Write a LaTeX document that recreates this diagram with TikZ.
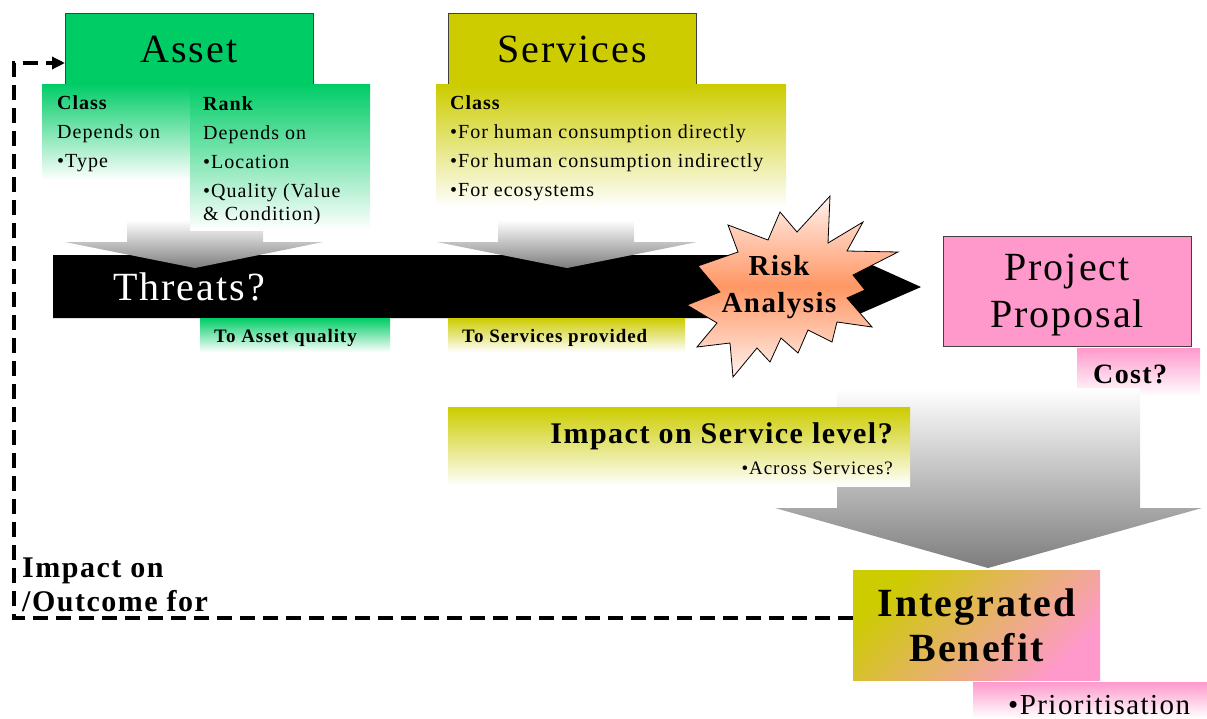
\documentclass[tikz,border=0pt]{standalone}
\usepackage{fontspec}
\setmainfont{Liberation Serif}[LetterSpace=5]
\usetikzlibrary{arrows.meta}

\definecolor{assetgreen}{RGB}{0,204,102}
\definecolor{servyellow}{RGB}{204,204,0}
\definecolor{proppink}{RGB}{255,153,204}
\definecolor{riskorange}{RGB}{255,150,100}
\definecolor{riskpale}{RGB}{255,242,238}
\definecolor{arrowgrey}{RGB}{125,125,125}

\newcommand{\fs}[2]{\fontsize{#1}{#2}\selectfont}

\begin{document}
\begin{tikzpicture}[x=1pt,y=-1pt,
    titlebox/.style={draw=black!75, line width=0.8pt, anchor=north west, inner sep=0pt, outer sep=0pt, minimum width=248pt, align=center, font=\fs{40}{47}},
    txt/.style={anchor=base west, inner sep=0pt, align=left, font=\fs{20}{23}},
    fadebox/.style={top color=#1, bottom color=white},
    downarrow/.style={top color=white, bottom color=arrowgrey},
    feedback/.style={line width=3.5pt, dash pattern=on 15pt off 8pt, -{Triangle[length=13pt,width=12pt]}}]

    \useasboundingbox (0,0) rectangle (1207,718);

    \fill (53,255) -- (850,255) -- (921,287) -- (850,318) -- (53,318) -- cycle;
    \node[txt, text=white, font=\fs{40}{47}] (threats) at (113,300) {Threats?};

    \shade[downarrow] (127,220) -- (263,220) -- (263,242) -- (323,242) -- (195,268) -- (65,242) -- (127,242) -- cycle;
    \shade[downarrow] (498,220) -- (634,220) -- (634,242) -- (697,242) -- (567,268) -- (437,242) -- (498,242) -- cycle;

    \node[titlebox, fill=assetgreen, minimum height=72pt] (asset) at (65,13) {Asset};
    \node[titlebox, fill=servyellow, minimum height=72pt] (services) at (448,13) {Services};

    \shade[fadebox=assetgreen] (42,84) rectangle (190,180);
    \shade[fadebox=assetgreen] (190,84) rectangle (370,230);
    \shade[fadebox=servyellow] (436,84) rectangle (786,207);

    \node[txt] (assetclass) at (57,167) {\textbf{Class}\\[6pt] Depends on\\[6pt] •Type};
    \node[txt] (assetrank) at (203,220) {\textbf{Rank}\\[6pt] Depends on\\[6pt] •Location\\[6pt] •Quality (Value\\ \& Condition)};
    \node[txt] (servclass) at (450,196) {\textbf{Class}\\[6pt] •For human consumption directly\\[6pt] •For human consumption indirectly\\[6pt] •For ecosystems};

    \shade[fadebox=assetgreen] (200,318) rectangle (390,352);
    \shade[fadebox=servyellow] (448,318) rectangle (685,352);
    \node[txt, font=\bfseries\fs{19}{23}] (toasset) at (214,342) {To Asset quality};
    \node[txt, font=\bfseries\fs{19}{23}] (toservices) at (462,342) {To Services provided};

    \shadedraw[line width=0.8pt, top color=riskpale, bottom color=riskpale, middle color=riskorange]
        (830,196) -- (828,243) -- (863,222) -- (847,251) -- (898,252) -- (853,275) -- (865,290) -- (847,298)
        -- (872,327) -- (837,322) -- (832,342) -- (808,330) -- (798,353) -- (781,338) -- (770,362) -- (757,348)
        -- (733,377) -- (730,343) -- (697,347) -- (717,323) -- (687,305) -- (720,292) -- (698,266) -- (738,252)
        -- (728,225) -- (768,240) -- (780,212) -- (797,232) -- cycle;
    \node[txt, anchor=base, align=center, font=\bfseries\fs{29}{37}] (risk) at (779,312) {Risk\\Analysis};

    \node[titlebox, fill=proppink, minimum height=110pt, text depth=0pt] (proposal) at (943,236) {Project\\Proposal};
    \shade[fadebox=proppink] (1077,348) rectangle (1200,396);
    \node[txt, font=\bfseries\fs{28}{30}] (cost) at (1093,383) {Cost?};

    \shade[downarrow] (837,388) -- (1140,388) -- (1140,508) -- (1202,508) -- (988,568) -- (775,508) -- (837,508) -- cycle;

    \shade[fadebox=servyellow] (448,407) rectangle (910,486);
    \node[txt, anchor=base east, font=\bfseries\fs{30}{30}] (impact) at (893,443) {Impact on Service level?};
    \node[txt, anchor=base east, font=\fs{19}{23}] (across) at (893,474) {•Across Services?};

    \node[titlebox, draw=none, top color=servyellow, bottom color=proppink, shading angle=45, minimum width=247pt, minimum height=110pt, font=\bfseries\fs{40}{45}] (benefit) at (853,570) {Integrated\\Benefit};
    \shade[fadebox=proppink] (973,682) rectangle (1207,718);
    \node[txt, font=\fs{29}{30}] (prio) at (1008,714) {•Prioritisation};

    \coordinate (loopcorner) at (14,618);
    \draw[feedback] ([yshift=7pt]benefit.west) -- (loopcorner) |- ([yshift=-14pt]asset.west);
    \node[txt, font=\bfseries\fs{30}{34}] (outcome) at (22,611) {Impact on\\/Outcome for};
\end{tikzpicture}
\end{document}
